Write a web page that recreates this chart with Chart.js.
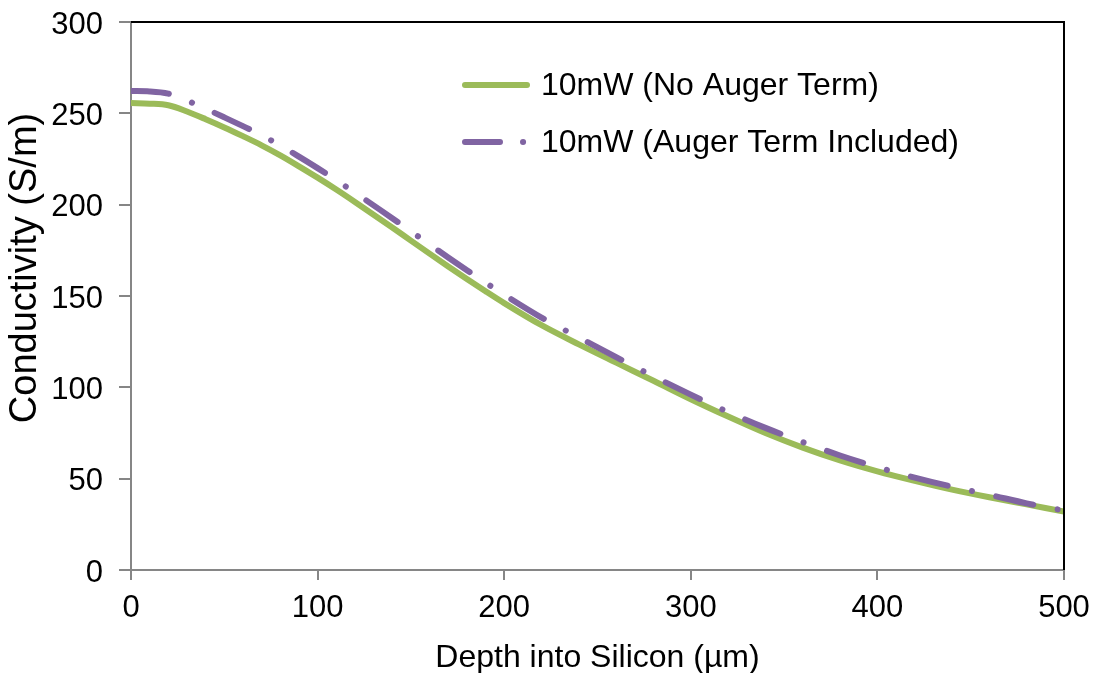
<!DOCTYPE html>
<html>
<head>
<meta charset="utf-8">
<script src="https://cdn.jsdelivr.net/npm/chart.js@4"></script>
<style>
  html, body { margin: 0; padding: 0; background: #ffffff; }
  #wrap { width: 1099px; height: 673px; position: relative; }
</style>
</head>
<body>
<div id="wrap"><canvas id="c"></canvas></div>
<script>
// ---- data ----
const depthUm = [0, 10, 20, 30, 40, 50, 60, 70, 80, 90, 100, 110, 120, 130, 140, 150, 160, 170, 180, 190, 200, 220, 240, 260, 280, 300, 320, 340, 360, 380, 400, 420, 440, 460, 480, 500];
const noAugerTerm = [255.6, 255.3, 254.4, 251, 246.8, 242.3, 237.5, 232.5, 227, 221, 214.8, 208.3, 201.5, 194.5, 187.5, 180.3, 173.2, 166.2, 159.3, 152.6, 146.1, 134, 123.5, 113.5, 103.6, 93.5, 84, 75, 67, 60, 54, 48.8, 44, 39.8, 35.9, 32];
const augerIncluded = [262.2, 262, 260.8, 257, 252.5, 247.8, 243, 238, 232.4, 226.3, 220, 213.4, 206.6, 199.6, 192.6, 185.4, 178.2, 171.1, 164.1, 157.3, 150.7, 138.2, 127.3, 116.5, 106, 96, 86.5, 77.8, 70, 62.7, 56.3, 50.6, 45.6, 41.2, 36.5, 32.5];
const seriesLabels = ['10mW (No Auger Term)', '10mW (Auger Term Included)'];
const xAxisTitle = 'Depth into Silicon (µm)';
const yAxisTitle = 'Conductivity (S/m)';
const xRange = [0, 500];
const yRange = [0, 300];

const GREEN = '#9BBB59';
const PURPLE = '#8064A2';
const AXIS_GRAY = '#868686';
const FONT = '"Liberation Sans", Arial, sans-serif';
const PURPLE_DASH = [38, 24.8, 0.1, 24.8];

const pts = (xs, ys) => xs.map((x, i) => ({ x: x, y: ys[i] }));

const framePlugin = {
  id: 'frame',
  afterDatasetsDraw(chart) {
    const { ctx, chartArea: a } = chart;
    ctx.save();
    // top & right black border
    ctx.strokeStyle = '#000000';
    ctx.lineWidth = 2;
    ctx.beginPath();
    ctx.moveTo(a.left, a.top);
    ctx.lineTo(a.right, a.top);
    ctx.lineTo(a.right, a.bottom);
    ctx.stroke();

    // legend inside plot area
    const ds = chart.data.datasets;
    ctx.font = '32px ' + FONT;
    ctx.fillStyle = '#000000';
    ctx.textBaseline = 'middle';
    ctx.textAlign = 'left';
    ctx.lineCap = 'round';
    ctx.lineWidth = 6;
    // item 1
    ctx.strokeStyle = ds[0].borderColor;
    ctx.setLineDash([]);
    ctx.beginPath();
    ctx.moveTo(465, 85);
    ctx.lineTo(527, 85);
    ctx.stroke();
    ctx.fillText(ds[0].label, 541, 86);
    // item 2
    ctx.strokeStyle = ds[1].borderColor;
    ctx.setLineDash([35, 23, 0.1, 23]);
    ctx.beginPath();
    ctx.moveTo(465, 142);
    ctx.lineTo(527, 142);
    ctx.stroke();
    ctx.setLineDash([]);
    ctx.fillText(ds[1].label, 541, 143);

    // axis titles
    ctx.textAlign = 'center';
    ctx.textBaseline = 'alphabetic';
    ctx.font = '32px ' + FONT;
    ctx.fillText(xAxisTitle, (a.left + a.right) / 2, 667);
    ctx.save();
    ctx.translate(26, 268);
    ctx.rotate(-Math.PI / 2);
    ctx.textBaseline = 'middle';
    ctx.font = '38px ' + FONT;
    ctx.fillText(yAxisTitle, 0, 0);
    ctx.restore();
    ctx.restore();
  }
};

new Chart(document.getElementById('c'), {
  type: 'line',
  data: {
    datasets: [
      {
        label: seriesLabels[0],
        data: pts(depthUm, noAugerTerm),
        borderColor: GREEN,
        backgroundColor: GREEN,
        borderWidth: 6,
        pointRadius: 0,
        cubicInterpolationMode: 'monotone',
        borderCapStyle: 'round',
        fill: false,
        order: 2
      },
      {
        label: seriesLabels[1],
        data: pts(depthUm, augerIncluded),
        borderColor: PURPLE,
        backgroundColor: PURPLE,
        borderWidth: 6,
        borderDash: PURPLE_DASH,
        borderCapStyle: 'round',
        pointRadius: 0,
        cubicInterpolationMode: 'monotone',
        fill: false,
        order: 1
      }
    ]
  },
  options: {
    responsive: true,
    maintainAspectRatio: false,
    animation: false,
    layout: { padding: { top: 22, right: 35, bottom: 0, left: 0 } },
    plugins: {
      legend: { display: false },
      tooltip: { enabled: false },
      title: { display: false }
    },
    scales: {
      x: {
        type: 'linear',
        min: xRange[0],
        max: xRange[1],
        afterFit(scale) {
          scale.height = 103;
          scale.paddingLeft = 0;
          scale.paddingRight = 0;
        },
        ticks: {
          stepSize: 100,
          padding: 10,
          color: '#000000',
          font: { family: FONT, size: 31 },
          maxRotation: 0
        },
        grid: {
          drawOnChartArea: false,
          drawTicks: true,
          tickLength: 10,
          color: AXIS_GRAY,
          lineWidth: 2
        },
        border: { display: true, color: AXIS_GRAY, width: 2 }
      },
      y: {
        type: 'linear',
        min: yRange[0],
        max: yRange[1],
        afterFit(scale) {
          scale.width = 131;
          scale.paddingTop = 0;
          scale.paddingBottom = 0;
        },
        ticks: {
          stepSize: 50,
          padding: 16,
          labelOffset: 3,
          color: '#000000',
          font: { family: FONT, size: 31 }
        },
        grid: {
          drawOnChartArea: false,
          drawTicks: true,
          tickLength: 12,
          color: AXIS_GRAY,
          lineWidth: 2
        },
        border: { display: true, color: AXIS_GRAY, width: 2 }
      }
    }
  },
  plugins: [framePlugin]
});
</script>
</body>
</html>
